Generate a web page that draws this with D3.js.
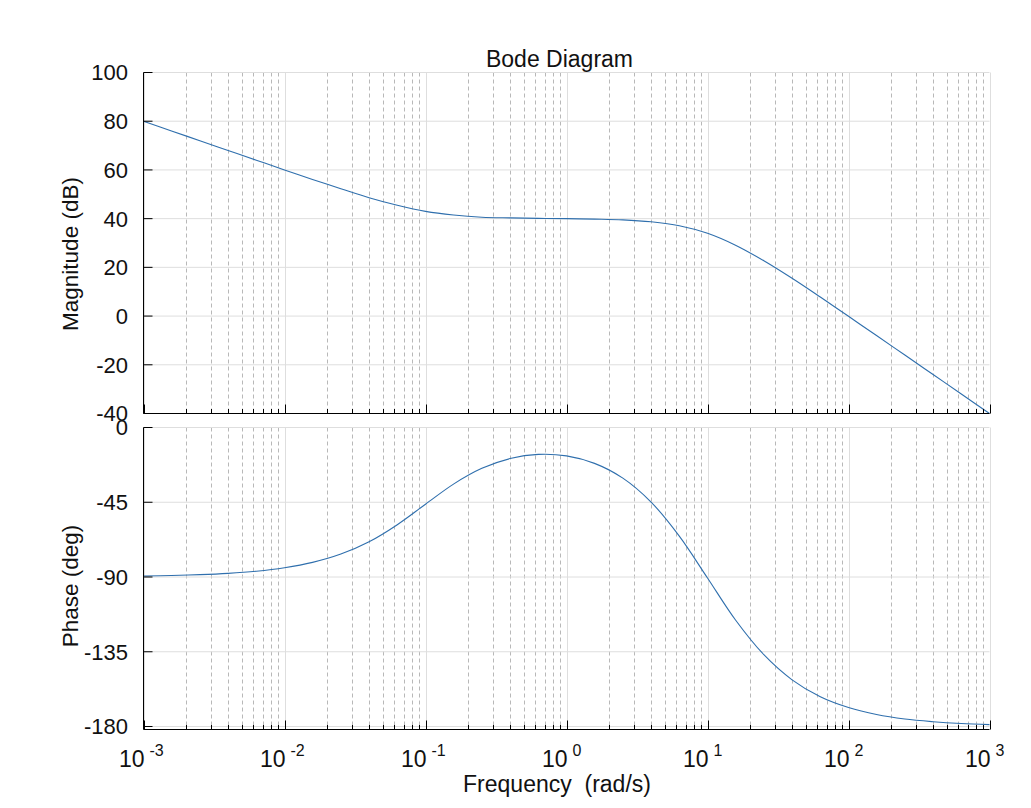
<!DOCTYPE html>
<html>
<head>
<meta charset="utf-8">
<script src="https://cdn.jsdelivr.net/npm/d3@7"></script>
<style>
  body { margin: 0; background: white; }
  text { font-family: "Liberation Sans", Arial, Helvetica, sans-serif; fill: #111; }
</style>
</head>
<body>
<script>
// frequency points (rad/s), every 0.2 decade
var freq = [0.001, 0.00158, 0.00251, 0.00398, 0.00631,
            0.01, 0.0158, 0.0251, 0.0398, 0.0631,
            0.1, 0.158, 0.251, 0.398, 0.631,
            1, 1.58, 2.51, 3.98, 6.31,
            10, 15.8, 25.1, 39.8, 63.1,
            100, 158, 251, 398, 631, 1000]
var magDb = [80.0, 76.0, 72.0, 68.0, 64.0,
             60.0, 56.1, 52.3, 48.6, 45.5,
             43.0, 41.5, 40.6, 40.3, 40.1,
             40.0, 39.8, 39.5, 38.7, 37.1,
             34.0, 29.1, 22.7, 15.5, 7.8,
             -0.1, -8.0, -16.0, -24.0, -32.0, -40.0]
var phaseDeg = [-89.4, -89.1, -88.6, -87.8, -86.5,
                -84.4, -81.2, -76.2, -68.8, -58.5,
                -46.2, -34.1, -24.6, -18.7, -16.2,
                -17.1, -21.6, -30.5, -44.9, -65.4,
                -90.6, -115.9, -136.8, -151.9, -162.1,
                -168.6, -172.8, -175.5, -177.1, -178.2, -178.9]
var magTicks = [100, 80, 60, 40, 20, 0, -20, -40]
var phaseTicks = [0, -45, -90, -135, -180]
var decades = [-3, -2, -1, 0, 1, 2, 3]

var lineColor = "#2f6fad"
var gridColor = "#dedede"
var minorColor = "#b8b8b8"

var svg = d3.select("body").append("svg")
    .attr("width", 1031)
    .attr("height", 808)

var x = d3.scaleLog()
    .domain([1e-3, 1e3])
    .range([143.5, 989.5])

var yMag = d3.scaleLinear()
    .domain([-40, 100])
    .range([413.5, 72.5])

var yPh = d3.scaleLinear()
    .domain([-180, 0])
    .range([726.5, 427.5])

// minor tick values 2..9 per decade
var minors = []
decades.slice(0, -1).forEach(function(e) {
  for (var k = 2; k <= 9; k++) minors.push(k * Math.pow(10, e))
})
var majors = decades.map(function(e) { return Math.pow(10, e) })

function panel(y, ticks, y0, y1, axisY, data, label, labelY) {
  var g = svg.append("g")

  // grid
  g.selectAll("line.minor").data(minors).enter().append("line")
    .attr("x1", d => Math.round(x(d)) + 0.5).attr("x2", d => Math.round(x(d)) + 0.5)
    .attr("y1", y0).attr("y2", y1)
    .attr("stroke", minorColor).attr("stroke-dasharray", "4,3")
  g.selectAll("line.major").data(majors).enter().append("line")
    .attr("x1", d => Math.round(x(d)) + 0.5).attr("x2", d => Math.round(x(d)) + 0.5)
    .attr("y1", y0).attr("y2", y1)
    .attr("stroke", gridColor)
  g.selectAll("line.hgrid").data(ticks).enter().append("line")
    .attr("x1", x.range()[0]).attr("x2", x.range()[1])
    .attr("y1", d => y(d)).attr("y2", d => y(d))
    .attr("stroke", gridColor)

  // curve
  var line = d3.line()
    .x((d, i) => x(freq[i]))
    .y(d => y(d))
    .curve(d3.curveCatmullRom.alpha(0.5))
  g.append("path")
    .datum(data)
    .attr("d", line)
    .attr("fill", "none")
    .attr("stroke", lineColor)
    .attr("stroke-width", 1.1)

  // left axis
  g.append("line")
    .attr("x1", 143.5).attr("x2", 143.5)
    .attr("y1", y0).attr("y2", axisY)
    .attr("stroke", "black")
  g.selectAll("line.ytick").data(ticks).enter().append("line")
    .attr("x1", 143.5).attr("x2", 152.5)
    .attr("y1", d => y(d)).attr("y2", d => y(d))
    .attr("stroke", "black")
  g.selectAll("text.ylab").data(ticks).enter().append("text")
    .attr("x", 128).attr("y", d => y(d))
    .attr("dy", "0.36em")
    .attr("text-anchor", "end")
    .style("font-size", "22px")
    .text(d => d)

  // bottom axis
  g.append("line")
    .attr("x1", 143.5).attr("x2", 989.5)
    .attr("y1", axisY).attr("y2", axisY)
    .attr("stroke", "black")
  g.selectAll("line.xminor").data(minors).enter().append("line")
    .attr("x1", d => Math.round(x(d)) + 0.5).attr("x2", d => Math.round(x(d)) + 0.5)
    .attr("y1", axisY).attr("y2", axisY - 4.5)
    .attr("stroke", "black")
  g.selectAll("line.xmajor").data(majors).enter().append("line")
    .attr("x1", d => Math.round(x(d)) + 0.5).attr("x2", d => Math.round(x(d)) + 0.5)
    .attr("y1", axisY).attr("y2", axisY - 9)
    .attr("stroke", "black")

  // y label
  svg.append("text")
    .attr("transform", "translate(78," + labelY + ") rotate(-90)")
    .attr("text-anchor", "middle")
    .style("font-size", "22.5px")
    .text(label)
}

panel(yMag, magTicks, 72.5, 413.5, 413.5, magDb, "Magnitude (dB)", 254)
panel(yPh, phaseTicks, 427.5, 729.5, 729.5, phaseDeg, "Phase (deg)", 586)

// x tick labels 10^e
var xl = svg.append("g")
decades.forEach(function(e) {
  var px = x(Math.pow(10, e))
  xl.append("text")
    .attr("x", px + 1).attr("y", 767)
    .attr("text-anchor", "end")
    .style("font-size", "23px")
    .text("10")
  xl.append("text")
    .attr("x", px + 6).attr("y", 756)
    .attr("text-anchor", "start")
    .style("font-size", "16px")
    .text(e)
})

svg.append("text")
  .attr("x", 559.5).attr("y", 67)
  .attr("text-anchor", "middle")
  .style("font-size", "23px")
  .text("Bode Diagram")

svg.append("text")
  .attr("x", 557).attr("y", 792)
  .attr("text-anchor", "middle")
  .style("font-size", "23px")
  .style("white-space", "pre")
  .text("Frequency  (rad/s)")
</script>
</body>
</html>
